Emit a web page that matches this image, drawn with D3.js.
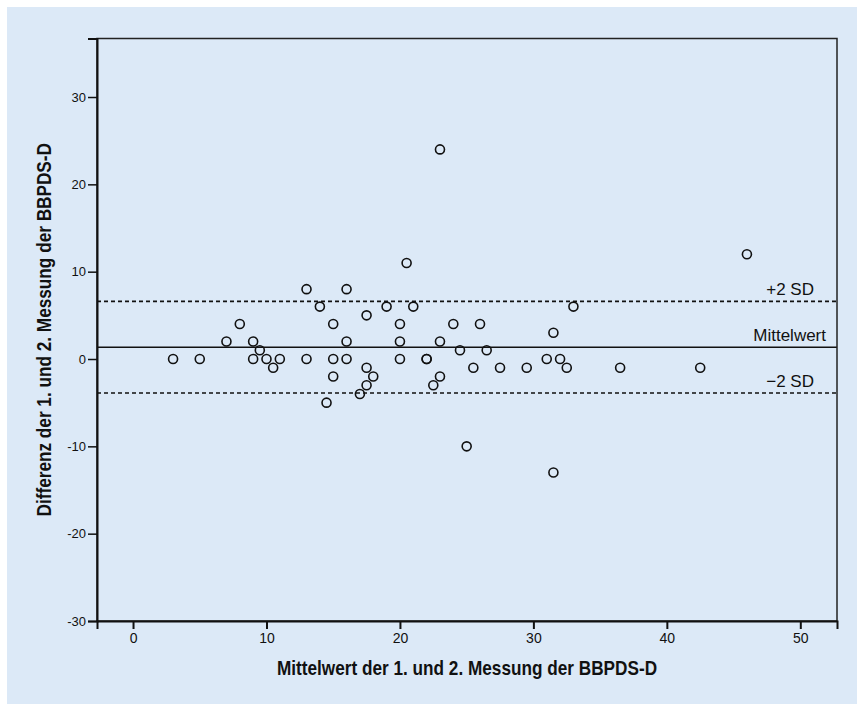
<!DOCTYPE html>
<html>
<head>
<meta charset="utf-8">
<script src="https://cdn.jsdelivr.net/npm/d3@7"></script>
<style>
  body { margin: 0; background: #fff; }
  .tick text { fill: #111; }
</style>
</head>
<body>
<svg id="mysvg"></svg>
<script>
// Bland-Altman: mean of both measurements vs. difference
const meanVals = [3, 5, 7, 8, 9, 9, 9.5, 10, 10.5, 11,
    13, 13, 14, 14.5, 15, 15, 15, 16, 16, 16,
    17, 17.5, 17.5, 17.5, 18, 19, 20, 20, 20, 20.5,
    21, 22, 22, 22.5, 23, 23, 23, 24, 24.5, 25,
    25.5, 26, 26.5, 27.5, 29.5, 31, 31.5, 31.5, 32, 32.5,
    33, 36.5, 42.5, 46];
const diffVals = [0, 0, 2, 4, 2, 0, 1, 0, -1, 0,
    8, 0, 6, -5, 4, 0, -2, 8, 2, 0,
    -4, 5, -1, -3, -2, 6, 4, 2, 0, 11,
    6, 0, 0, -3, 24, 2, -2, 4, 1, -10,
    -1, 4, 1, -1, -1, 0, 3, -13, 0, -1,
    6, -1, -1, 12];

const refNames = ["+2 SD", "Mittelwert", "\u22122 SD"];
const refValues = [6.6, 1.35, -3.9];
const refDash = ["4,3", null, "4,3"];

const xTicks = [0, 10, 20, 30, 40, 50];
const yTicks = [-30, -20, -10, 0, 10, 20, 30];

const w = 857, h = 704;
const pLeft = 97, pRight = 837, pTop = 38.5, pBottom = 621;

const svg = d3.select("#mysvg")
    .attr("width", w)
    .attr("height", h);

svg.append("rect")
    .attr("x", 7).attr("y", 7)
    .attr("width", w - 7).attr("height", h - 7)
    .attr("fill", "#dce9f7");

const xScale = d3.scaleLinear()
    .domain([-2.7, 52.75])
    .range([pLeft, pRight]);

const yScale = d3.scaleLinear()
    .domain([-30, 36.7])
    .range([pBottom, pTop]);

// reference lines
svg.selectAll(".ref")
    .data(refValues)
    .enter().append("line")
    .attr("class", "ref")
    .attr("x1", pLeft).attr("x2", pRight)
    .attr("y1", d => yScale(d)).attr("y2", d => yScale(d))
    .attr("stroke", "#111")
    .attr("stroke-width", 1.6)
    .attr("stroke-dasharray", (d, i) => refDash[i]);

svg.selectAll(".reflabel")
    .data(refValues)
    .enter().append("text")
    .attr("class", "reflabel")
    .attr("x", (d, i) => i === 1 ? 826 : 814)
    .attr("y", d => yScale(d) - 6)
    .attr("text-anchor", "end")
    .style("font-family", "'Liberation Sans', Arial, sans-serif")
    .style("font-size", "17px")
    .attr("fill", "#111")
    .text((d, i) => refNames[i]);

// points
svg.selectAll(".dot")
    .data(meanVals)
    .enter().append("circle")
    .attr("class", "dot")
    .attr("cx", d => xScale(d))
    .attr("cy", (d, i) => yScale(diffVals[i]))
    .attr("r", 4.5)
    .attr("fill", "none")
    .attr("stroke", "#111")
    .attr("stroke-width", 1.6);

// frame
svg.append("rect")
    .attr("x", pLeft).attr("y", pTop)
    .attr("width", pRight - pLeft).attr("height", pBottom - pTop)
    .attr("fill", "none")
    .attr("stroke", "#222")
    .attr("stroke-width", 1.5);

// Create X axis
const xAxis = svg.append("g")
    .attr("class", "x axis")
    .attr("transform", "translate(0," + pBottom + ")")
    .call(d3.axisBottom(xScale).tickValues(xTicks).tickSize(8).tickPadding(4))
    .style("font-family", "'Liberation Sans', Arial, sans-serif")
    .style("font-size", "14px");
xAxis.select(".domain").attr("stroke", "#111").attr("stroke-width", 2);
xAxis.selectAll(".tick line").attr("stroke", "#111").attr("stroke-width", 2);

// Create Y axis
const yAxis = svg.append("g")
    .attr("class", "y axis")
    .attr("transform", "translate(" + pLeft + ",0)")
    .call(d3.axisLeft(yScale).tickValues(yTicks).tickSize(9).tickPadding(2)
        .tickFormat(d => String(d)))
    .style("font-family", "'Liberation Sans', Arial, sans-serif")
    .style("font-size", "13px");
yAxis.select(".domain").attr("stroke", "#111").attr("stroke-width", 2);
yAxis.selectAll(".tick line").attr("stroke", "#111").attr("stroke-width", 1.5);

// axis titles (squeezed horizontally to look like a narrow bold face)
svg.append("text")
    .attr("transform", "translate(" + ((pLeft + pRight) / 2) + ",675) scale(0.86,1)")
    .attr("text-anchor", "middle")
    .style("font-family", "'Liberation Sans', Arial, sans-serif")
    .style("font-weight", "bold")
    .style("font-size", "20px")
    .attr("fill", "#111")
    .text("Mittelwert der 1. und 2. Messung der BBPDS-D");

svg.append("text")
    .attr("transform", "translate(51," + ((pTop + pBottom) / 2) + ") rotate(-90) scale(0.86,1)")
    .attr("text-anchor", "middle")
    .style("font-family", "'Liberation Sans', Arial, sans-serif")
    .style("font-weight", "bold")
    .style("font-size", "20px")
    .attr("fill", "#111")
    .text("Differenz der 1. und 2. Messung der BBPDS-D");
</script>
</body>
</html>
